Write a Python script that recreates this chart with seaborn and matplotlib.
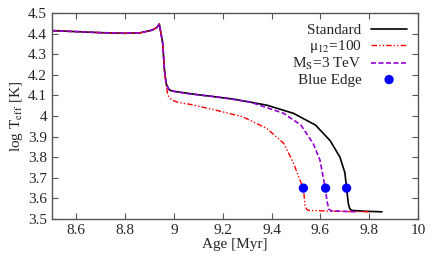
import numpy as np
import pandas as pd
import matplotlib
matplotlib.use("Agg")
import matplotlib.pyplot as plt
import seaborn as sns

# ===== DATA =====
age_std = [8.50, 8.60, 8.70, 8.80, 8.86, 8.91, 8.93, 8.94, 8.954, 8.961, 8.968, 8.975, 8.982, 9.00,
           9.06, 9.11, 9.24, 9.38, 9.49, 9.58, 9.64, 9.68, 9.70, 9.707, 9.714, 9.72, 9.728, 9.78, 9.852]
teff_std = [4.415, 4.410, 4.405, 4.402, 4.404, 4.417, 4.430, 4.447, 4.353, 4.223, 4.159, 4.138, 4.126, 4.120,
            4.110, 4.102, 4.083, 4.053, 4.013, 3.956, 3.880, 3.800, 3.725, 3.650, 3.576, 3.550, 3.542, 3.538, 3.535]

age_mu = [8.50, 8.60, 8.70, 8.80, 8.86, 8.91, 8.93, 8.94, 8.954, 8.961, 8.968, 8.975, 8.99, 9.01, 9.04,
          9.07, 9.17, 9.28, 9.38, 9.45, 9.49, 9.516, 9.53, 9.537, 9.543, 9.55, 9.65, 9.808]
teff_mu = [4.415, 4.410, 4.405, 4.402, 4.404, 4.417, 4.430, 4.447, 4.353, 4.223, 4.150, 4.100, 4.080, 4.069, 4.062,
           4.056, 4.029, 3.997, 3.940, 3.867, 3.770, 3.689, 3.650, 3.565, 3.548, 3.542, 3.538, 3.535]

age_ms = [8.50, 8.60, 8.70, 8.80, 8.86, 8.91, 8.93, 8.94, 8.954, 8.961, 8.968, 8.975, 8.982, 9.00,
          9.06, 9.17, 9.31, 9.45, 9.52, 9.57, 9.598, 9.618, 9.628, 9.634, 9.645, 9.70, 9.75]
teff_ms = [4.415, 4.410, 4.405, 4.402, 4.404, 4.417, 4.430, 4.447, 4.353, 4.223, 4.159, 4.138, 4.126, 4.120,
           4.108, 4.094, 4.069, 4.013, 3.956, 3.867, 3.786, 3.660, 3.580, 3.548, 3.540, 3.537, 3.535]

edge_age = [9.530, 9.621, 9.707]
edge_teff = [3.65, 3.65, 3.65]

# ===== STYLE =====
sns.set_style("ticks")
plt.rcParams["font.family"] = ["Liberation Serif", "DejaVu Serif"]
plt.rcParams["mathtext.fontset"] = "stix"

fig = plt.figure(figsize=(4.36, 2.62), dpi=100)
ax = fig.add_axes([0.119, 0.164, 0.840, 0.786])

sns.lineplot(x=age_std, y=teff_std, ax=ax, color="black", linewidth=1.2,
             sort=False, estimator=None, label="Standard")
sns.lineplot(x=age_mu, y=teff_mu, ax=ax, color="red", linewidth=1.0,
             sort=False, estimator=None, label="μ$_{12}$=100")
ax.lines[-1].set_dashes([4, 1.5, 1, 1.5, 1, 1.5])
sns.lineplot(x=age_ms, y=teff_ms, ax=ax, color="#9400D3", linewidth=1.2,
             sort=False, estimator=None, label=r"M$_{\rm S}$=3 TeV")
ax.lines[-1].set_dashes([3, 1.5])
sns.scatterplot(x=edge_age, y=edge_teff, ax=ax, color="blue", s=45,
                edgecolor="none", label="Blue Edge", zorder=5)

ax.set_xlim(8.5, 10)
ax.set_ylim(3.5, 4.5)
xt = [8.6, 8.8, 9.0, 9.2, 9.4, 9.6, 9.8, 10.0]
yt = [3.5, 3.6, 3.7, 3.8, 3.9, 4.0, 4.1, 4.2, 4.3, 4.4, 4.5]
ax.set_xticks(xt)
ax.set_xticklabels(["%g" % v for v in xt])
ax.set_yticks(yt)
ax.set_yticklabels(["%g" % v for v in yt])
ax.tick_params(direction="in", top=True, right=True, labelsize=11, length=4,
               width=0.8, color="#555555")
for s in ax.spines.values():
    s.set_color("#555555")
    s.set_linewidth(1.0)

ax.set_xlabel("Age [Myr]", fontsize=11, labelpad=1)
ax.set_ylabel(r"log T$_{\rm eff}$ [K]", fontsize=11, labelpad=2)

ax.legend(loc="upper right", frameon=False, markerfirst=False, fontsize=11,
          handlelength=2.4, labelspacing=0.05, borderaxespad=0.3,
          handletextpad=0.6)

fig.savefig("out.png", dpi=100)
